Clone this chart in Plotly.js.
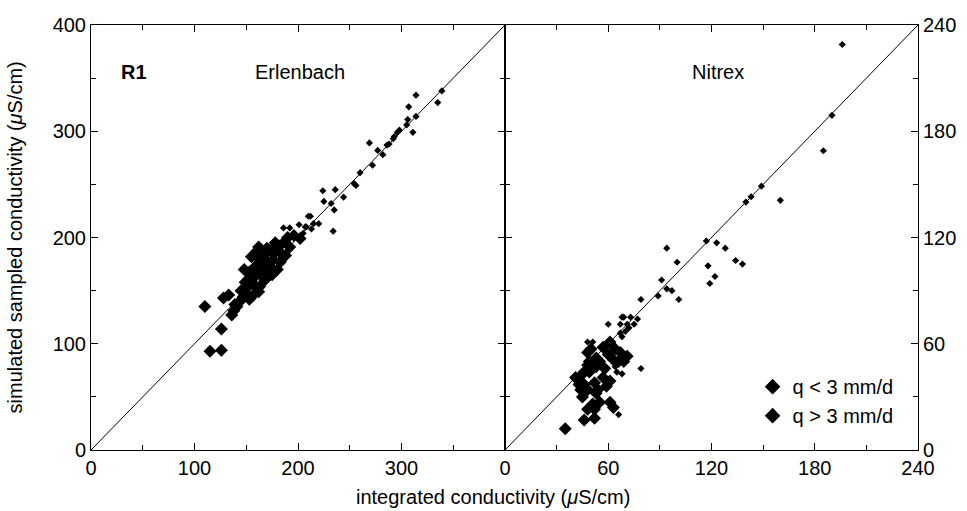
<!DOCTYPE html>
<html><head><meta charset="utf-8">
<script src="https://cdn.plot.ly/plotly-3.0.1.min.js"></script>
<style>html,body{margin:0;padding:0;background:#fff}</style>
</head><body><div id="chart" style="width:967px;height:511px"></div>
<script>
// Erlenbach (left panel) — [integrated, simulated sampled]
const erlenSmall = [[339,338],[314,334],[335,327],[307,323],[314,314],[306,311],[305,306],[311,299],[298,301],[296,299],[293,295],[292,293],[288,288],[286,287],[269,289],[277,282],[282,278],[272,268],[260,261],[256,249],[254,251],[224,244],[236,245],[225,234],[244,238],[232,232],[235,226],[234,206],[212,220],[215,213],[220,213],[213,208],[208,210],[205,204],[202,200],[186,209],[192,209],[201,212],[210,220],[207,210]];
const erlenLarge = [[110,135],[115,93],[126,94],[126,114],[128,143],[133,146],[136,127],[138,131],[141,135],[139,137],[147,144],[150,152],[149,158],[154,163],[152,167],[157,146],[162,149],[163,154],[155,160],[160,165],[155,182],[162,191],[165,176],[168,184],[171,169],[178,195],[176,179],[183,177],[184,185],[192,191],[196,202],[202,199],[158,172],[166,163],[170,178],[174,188],[180,170],[187,196],[145,150],[150,147],[158,155],[168,160],[172,174],[178,186],[162,180],[190,200],[144,140],[153,142],[165,170],[170,190],[175,165],[148,170],[160,187],[182,192],[188,183]];
// Nitrex (right panel)
const nitrexSmall = [[196,229],[190,189],[185,169],[149,149],[143,143],[140,140],[160,141],[117,118],[123,117],[128,114],[94,114],[100,106],[118,104],[134,107],[138,105],[122,98],[119,94],[91,96],[89,87],[94,91],[97,90],[101,85],[79,85],[69,75],[77,74],[60,71],[68,75],[67,71],[75,71],[72,69],[70,67],[67,66],[68,64],[48,61],[51,61],[79,46],[68,43],[65,44],[64,47],[66,20],[71,71],[73,75]];
const nitrexLarge = [[35,12],[46,17],[52,18],[52,23],[63,24],[61,27],[55,27],[51,26],[45,30],[44,34],[48,34],[53,32],[42,40],[46,37],[52,38],[61,39],[41,41],[44,42],[49,44],[57,41],[48,48],[53,47],[58,46],[48,55],[53,52],[60,54],[61,61],[64,57],[67,55],[71,53],[66,50],[49,50],[46,44],[54,34],[48,23],[57,58],[63,51],[69,50],[55,50],[50,57],[59,36],[43,37]];

const leftRange = [0,400];
const rightRange = [0,240];
const leftTicks = [0,100,200,300,400];
const leftTickText = ['0','100','200','300',''];
const rightTicks = [0,60,120,180,240];
const rightTickText = ['0','60','120','180','240'];
const legendNames = ['q < 3 mm/d','q > 3 mm/d'];

const xs = a => a.map(p=>p[0]);
const ys = a => a.map(p=>p[1]);
const F = 'Liberation Sans, Arial, sans-serif';

const traces = [
  {x:leftRange,y:leftRange,mode:'lines',line:{color:'#000',width:1},xaxis:'x',yaxis:'y',showlegend:false,hoverinfo:'skip'},
  {x:rightRange,y:rightRange,mode:'lines',line:{color:'#000',width:1},xaxis:'x2',yaxis:'y2',showlegend:false,hoverinfo:'skip'},
  {x:xs(erlenSmall),y:ys(erlenSmall),mode:'markers',marker:{symbol:'diamond',size:5.5,color:'#000'},xaxis:'x',yaxis:'y',showlegend:false},
  {x:xs(erlenLarge),y:ys(erlenLarge),mode:'markers',marker:{symbol:'diamond',size:10,color:'#000'},xaxis:'x',yaxis:'y',showlegend:false},
  {x:xs(nitrexSmall),y:ys(nitrexSmall),mode:'markers',marker:{symbol:'diamond',size:5.5,color:'#000'},xaxis:'x2',yaxis:'y2',name:legendNames[0]},
  {x:xs(nitrexLarge),y:ys(nitrexLarge),mode:'markers',marker:{symbol:'diamond',size:10,color:'#000'},xaxis:'x2',yaxis:'y2',name:legendNames[1]}
];

const axBase = {showgrid:false,zeroline:false,showline:true,linecolor:'#000',linewidth:1,mirror:'ticks',ticks:'inside',ticklen:7,tickwidth:1,tickcolor:'#000',tickfont:{family:F,size:20,color:'#000'}};
const split = 414/827;
const layout = {
  width:967,height:511,margin:{l:91,r:49,t:25,b:61},
  paper_bgcolor:'#fff',plot_bgcolor:'#fff',
  xaxis:Object.assign({},axBase,{domain:[0,split],range:leftRange,tickvals:leftTicks,ticktext:leftTickText,minor:{dtick:50,tick0:0,ticks:'inside',ticklen:5,tickcolor:'#000'}}),
  yaxis:Object.assign({},axBase,{range:leftRange,tickvals:leftTicks,ticktext:['0','100','200','300','400'],minor:{dtick:50,tick0:0,ticks:'inside',ticklen:5,tickcolor:'#000'}}),
  xaxis2:Object.assign({},axBase,{domain:[split,1],anchor:'y2',range:rightRange,tickvals:rightTicks,ticktext:rightTickText,minor:{dtick:30,tick0:0,ticks:'inside',ticklen:5,tickcolor:'#000'}}),
  yaxis2:Object.assign({},axBase,{anchor:'x2',side:'right',range:rightRange,tickvals:rightTicks,ticktext:rightTickText,minor:{dtick:30,tick0:0,ticks:'inside',ticklen:5,tickcolor:'#000'}}),
  showlegend:true,
  legend:{x:0.8,y:0.195,xanchor:'left',yanchor:'top',bgcolor:'rgba(0,0,0,0)',font:{family:F,size:20,color:'#000'},itemsizing:'constant',tracegroupgap:0},
  annotations:[
    {text:'<b>R1</b>',xref:'paper',yref:'paper',x:0.052,y:0.889,xanchor:'center',yanchor:'middle',showarrow:false,font:{family:F,size:20,color:'#000'}},
    {text:'Erlenbach',xref:'paper',yref:'paper',x:0.253,y:0.889,xanchor:'center',yanchor:'middle',showarrow:false,font:{family:F,size:20,color:'#000'}},
    {text:'Nitrex',xref:'paper',yref:'paper',x:0.758,y:0.889,xanchor:'center',yanchor:'middle',showarrow:false,font:{family:F,size:20,color:'#000'}},
    {text:'integrated conductivity (<i>μ</i>S/cm)',xref:'paper',yref:'paper',x:0.486,y:-0.11,xanchor:'center',yanchor:'middle',showarrow:false,font:{family:F,size:20,color:'#000'}},
    {text:'simulated sampled conductivity (<i>μ</i>S/cm)',xref:'paper',yref:'paper',x:-0.092,y:0.5,xanchor:'center',yanchor:'middle',textangle:-90,showarrow:false,font:{family:F,size:20,color:'#000'}}
  ]
};
Plotly.newPlot('chart',traces,layout,{displayModeBar:false,staticPlot:true});
</script></body></html>
